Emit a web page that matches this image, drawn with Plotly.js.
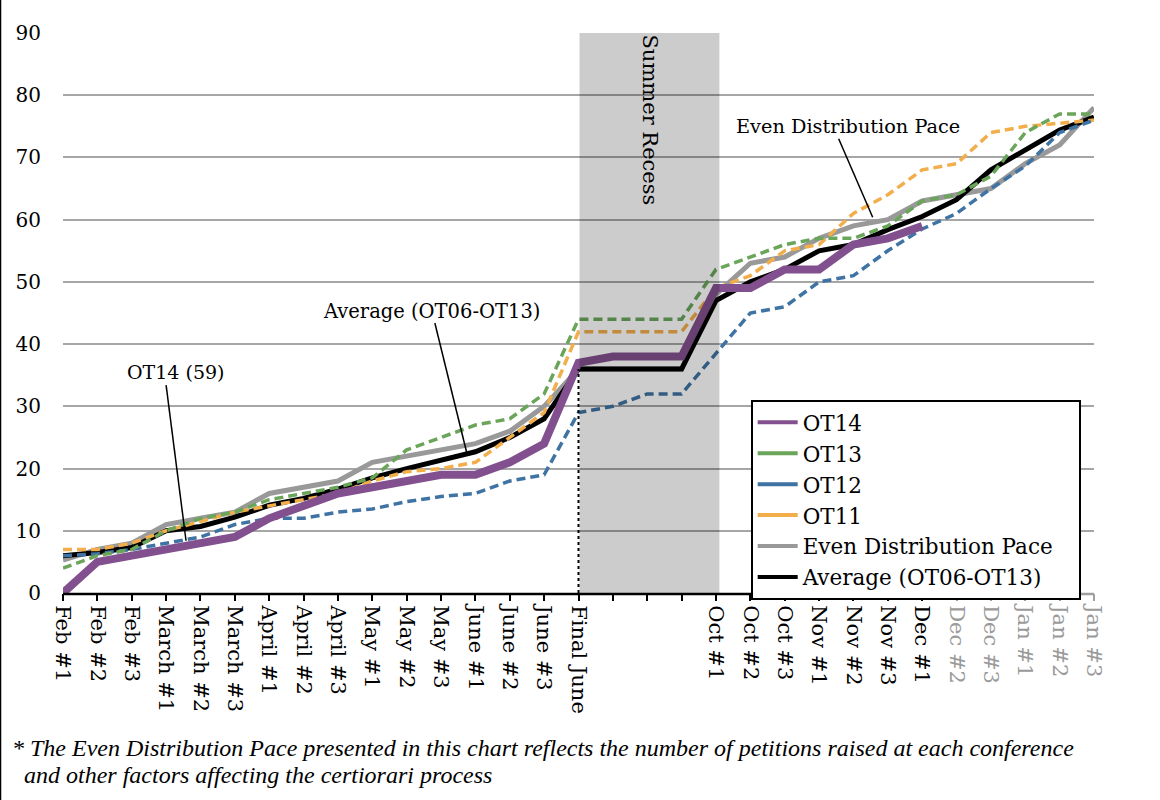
<!DOCTYPE html>
<html>
<head>
<meta charset="utf-8">
<script src="https://cdn.plot.ly/plotly-3.0.1.min.js"></script>
<style>html,body{margin:0;padding:0;background:#fff;}#chart{width:1160px;height:800px;}</style>
</head>
<body>
<div id="chart"></div>
<script>
const categories = ["Feb #1","Feb #2","Feb #3","March #1","March #2","March #3","April #1","April #2","April #3","May #1","May #2","May #3","June #1","June #2","June #3","Final June","","","","Oct #1","Oct #2","Oct #3","Nov #1","Nov #2","Nov #3","Dec #1","Dec #2","Dec #3","Jan #1","Jan #2","Jan #3"];
const projectedStart = 26;
const ot14 = [0,5,6,7,8,9,12,14,16,17,18,19,19,21,24,37,38,38,38,49,49,52,52,56,57,59,null,null,null,null,null];
const ot13 = [4,6,7,10,12,13,15,16,17,18.5,23,25,27,28,32,44,44,44,44,52,54,56,57,57,59,63,64,67,74,77,77];
const ot12 = [6,6.3,7,8,9,11,12,12,13,13.5,14.7,15.5,16,18,19,29,30,32,32,38.5,45,46,50,51,55,58.5,61,65,68.6,74,76];
const ot11 = [7,7,8,10,11.5,13,14,15,16,18,19.5,20,21,25,29,42,42,42,42,49,51,55,56,61,64,68,69,74,75,75.5,76];
const evenPace = [5.3,7,8,11,12,13,16,17,18,21,22,23,24,26,30,36,36,36,36,48,53,54,57,59,60,63,64,65,69,72,78];
const average = [6,6.5,7.3,10,10.7,12.2,14.1,15.2,16.7,18.5,20,21.3,22.7,25,28,36,36,36,36,47,50,52,55,56,58.4,60.5,63.2,68,71.3,74.4,76.5];
const yTicks = [0,10,20,30,40,50,60,70,80,90];

const seriesNames = ["OT14","OT13","OT12","OT11","Even Distribution Pace","Average (OT06-OT13)"];
const colors = {ot14:"#82508e", ot13:"#6aa55a", ot12:"#3f73a3", ot11:"#f2ae4a", even:"#999999", avg:"#000000"};

const xIdx = categories.map((c,i)=>i);
const serif = "DejaVu Serif, Liberation Serif, serif";
const dash = "9px,5px";

function line(y, name, color, width, dashStyle){
  return {x:xIdx, y:y, name:name, type:"scatter", mode:"lines", showlegend:false,
    line:{color:color, width:width, dash:dashStyle||"solid"}, hoverinfo:"skip", connectgaps:false};
}
const traces = [
  line(evenPace, seriesNames[4], colors.even, 5),
  line(average, seriesNames[5], colors.avg, 5),
  line(ot11, seriesNames[3], colors.ot11, 3.5, dash),
  line(ot12, seriesNames[2], colors.ot12, 3.5, dash),
  line(ot13, seriesNames[1], colors.ot13, 3.5, dash),
  line(ot14, seriesNames[0], colors.ot14, 8)
];
// carrier for the secondary (projected) tick axis
traces.push({x:[null], y:[null], xaxis:"x2", yaxis:"y", type:"scatter", mode:"lines", showlegend:false, hoverinfo:"skip"});
const legendColors = [colors.ot14, colors.ot13, colors.ot12, colors.ot11, colors.even, colors.avg];
seriesNames.forEach((n,i)=>{
  traces.push({x:[null], y:[null], name:(i===4 ? n + "&nbsp;&nbsp;&nbsp;" : n), type:"scatter", mode:"lines", showlegend:true,
    line:{color:legendColors[i], width:4}, hoverinfo:"skip"});
});

const mainTickVals = xIdx.filter(i=>i<projectedStart);
const projTickVals = xIdx.filter(i=>i>=projectedStart);
const axisSplit = projectedStart - 0.45;

const layout = {
  width:1160, height:800,
  margin:{l:63, r:66, t:33, b:207},
  paper_bgcolor:"#fff", plot_bgcolor:"#fff",
  font:{family:serif, color:"#000", size:18},
  showlegend:true,
  legend:{x:0.667, y:0.345, xanchor:"left", yanchor:"top", bgcolor:"#fff", bordercolor:"#000", borderwidth:2,
    font:{family:serif, size:21.5, color:"#000"}, traceorder:"normal", itemwidth:40},
  xaxis:{range:[0,30], showgrid:false, zeroline:false, showline:false,
    tickmode:"array", tickvals:mainTickVals, ticktext:mainTickVals.map(i=>categories[i]),
    ticks:"outside", ticklen:7, tickwidth:2, tickcolor:"#000", tickangle:90,
    tickfont:{family:serif, size:21, color:"#000"}},
  xaxis2:{range:[0,30], overlaying:"x", anchor:"y", side:"bottom", showgrid:false, zeroline:false, showline:false,
    tickmode:"array", tickvals:projTickVals, ticktext:projTickVals.map(i=>categories[i]),
    ticks:"outside", ticklen:7, tickwidth:2, tickcolor:"#a0a0a0", tickangle:90,
    tickfont:{family:serif, size:21, color:"#9a9a9a"}},
  yaxis:{range:[0,90], showgrid:true, gridcolor:"#a6a6a6", gridwidth:2, zeroline:false, showline:false,
    tickmode:"array", tickvals:yTicks, ticks:"", ticklabelstandoff:21,
    tickfont:{family:serif, size:20, color:"#000"}},
  shapes:[
    {type:"line", xref:"x", yref:"y", x0:15, x1:15, y0:0, y1:36, line:{color:"#000", width:2, dash:"dot"}, layer:"above"},
    {type:"rect", xref:"x", yref:"y", x0:15.03, x1:19.1, y0:0, y1:90.5, fillcolor:"rgba(0,0,0,0.2)", line:{width:0}, layer:"above"},
    {type:"line", xref:"x", yref:"paper", x0:0, x1:axisSplit, y0:-0.0018, y1:-0.0018, line:{color:"#000", width:2.5}, layer:"above"},
    {type:"line", xref:"x", yref:"paper", x0:axisSplit, x1:30, y0:-0.0018, y1:-0.0018, line:{color:"#a0a0a0", width:2.5}, layer:"above"},
    {type:"line", xref:"x", yref:"y", x0:3.0, y0:33.4, x1:3.58, y1:8.4, line:{color:"#000", width:1.5}, layer:"above"},
    {type:"line", xref:"x", yref:"y", x0:10.82, y0:43.4, x1:11.75, y1:22.5, line:{color:"#000", width:1.5}, layer:"above"},
    {type:"line", xref:"x", yref:"y", x0:22.57, y0:73.0, x1:23.56, y1:60.4, line:{color:"#000", width:1.5}, layer:"above"},
    {type:"line", xref:"paper", yref:"paper", x0:-0.0606, x1:-0.0606, y0:1.06, y1:-0.37, line:{color:"#000", width:1.5}}
  ],
  annotations:[
    {x:17.07, y:76, xref:"x", yref:"y", text:"Summer Recess", textangle:90, showarrow:false, font:{family:serif, size:21, color:"#000"}},
    {x:3.26, y:35.5, xref:"x", yref:"y", text:"OT14 (59)", showarrow:false, font:{family:serif, size:19, color:"#000"}},
    {x:10.73, y:45.3, xref:"x", yref:"y", text:"Average (OT06-OT13)", showarrow:false, font:{family:serif, size:19.5, color:"#000"}},
    {x:22.83, y:74.9, xref:"x", yref:"y", text:"Even Distribution Pace", showarrow:false, font:{family:serif, size:19.3, color:"#000"}},
    {x:-0.0514, y:-0.277, xref:"paper", yref:"paper", xanchor:"left", yanchor:"middle", showarrow:false,
      text:"<i>* The Even Distribution Pace presented in this chart reflects the number of petitions raised at each conference</i>",
      font:{family:"Liberation Serif, serif", size:24, color:"#000"}},
    {x:-0.0398, y:-0.325, xref:"paper", yref:"paper", xanchor:"left", yanchor:"middle", showarrow:false,
      text:"<i>and other factors affecting the certiorari process</i>",
      font:{family:"Liberation Serif, serif", size:24, color:"#000"}}
  ]
};
Plotly.newPlot("chart", traces, layout, {displayModeBar:false, staticPlot:true});
</script>
</body>
</html>
